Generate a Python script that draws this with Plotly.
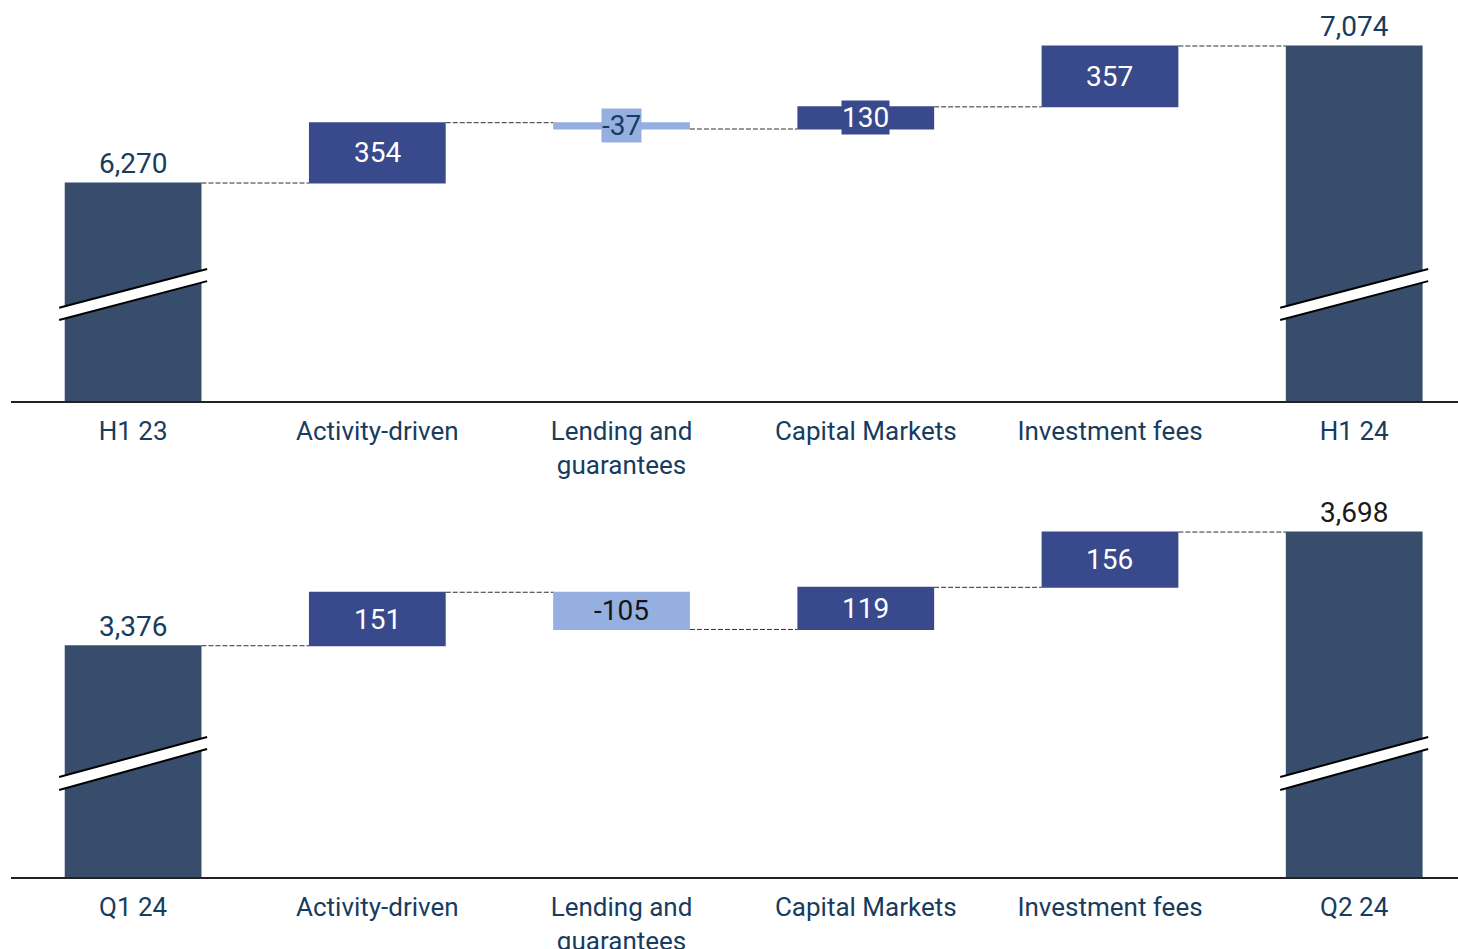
import plotly.graph_objects as go
from plotly.subplots import make_subplots

# ---------------- data ----------------
top_categories = ["H1 23", "Activity-driven", "Lending and<br>guarantees",
                  "Capital Markets", "Investment fees", "H1 24"]
top_values = [6270, 354, -37, 130, 357, 7074]

bottom_categories = ["Q1 24", "Activity-driven", "Lending and<br>guarantees",
                     "Capital Markets", "Investment fees", "Q2 24"]
bottom_values = [3376, 151, -105, 119, 156, 3698]

measures = ["absolute", "relative", "relative", "relative", "relative", "total"]

# ---------------- style ----------------
FONT = "Roboto"
C_TOTAL = "#374D6B"
C_INC = "#384A8B"
C_DEC = "#95B0E0"
C_TEXT = "#183C5D"
C_CONN = "#2E2E2E"

W, H = 1458, 949
fig = make_subplots(rows=2, cols=1, vertical_spacing=0.05)

panels = [
    dict(cats=top_categories, vals=top_values, row=1, yr=[4991, 7344],
         dom=[1 - 401 / H, 1.0], dec_text=C_TEXT, total_colors=[C_TEXT, C_TEXT],
         brk=[(0.2327, 0.329), (0.2019, 0.299)]),
    dict(cats=bottom_categories, vals=bottom_values, row=2, yr=[2723, 3844],
         dom=[1 - 877 / H, 1 - 480 / H], dec_text="#151515", total_colors=[C_TEXT, "#1a1a1a"],
         brk=[(0.2519, 0.3526), (0.2191, 0.3224)]),
]

BAR_W = 0.56
annotations = []
shapes = []
for p in panels:
    xs = list(range(len(p["cats"])))
    fig.add_trace(go.Waterfall(
        x=xs, y=p["vals"], measure=measures, width=BAR_W,
        increasing=dict(marker=dict(color=C_INC, line=dict(width=0))),
        decreasing=dict(marker=dict(color=C_DEC, line=dict(width=0))),
        totals=dict(marker=dict(color=C_TOTAL, line=dict(width=0))),
        connector=dict(mode="between", line=dict(color=C_CONN, width=1, dash="5px,2px")),
        textinfo="none", hoverinfo="skip", showlegend=False,
    ), row=p["row"], col=1)

    xref = "x" if p["row"] == 1 else "x2"
    yref = "y" if p["row"] == 1 else "y2"
    # labels
    run = 0
    for i, (m, v) in enumerate(zip(measures, p["vals"])):
        if m in ("absolute", "total"):
            col = p["total_colors"][0] if i == 0 else p["total_colors"][1]
            annotations.append(dict(
                x=i, y=v, xref=xref, yref=yref, text=f"{v:,}", showarrow=False,
                yanchor="bottom", yshift=1, font=dict(family=FONT, size=28, color=col)))
            run = v
        else:
            mid = run + v / 2
            inc = v > 0
            annotations.append(dict(
                x=i, y=mid, xref=xref, yref=yref, text=f"{v:,}", showarrow=False,
                yanchor="middle", bgcolor=C_INC if inc else C_DEC, borderpad=0,
                font=dict(family=FONT, size=28, color="white" if inc else p["dec_text"])))
            run += v
    # axis breaks on total bars
    y0, y1 = p["yr"]
    def yv(f):
        return y0 + f * (y1 - y0)
    (ul, ur), (ll, lr) = p["brk"]
    for i in (0, len(xs) - 1):
        xa, xb = i - 0.303, i + 0.303
        shapes.append(dict(type="path", xref=xref, yref=yref,
                           path=f"M {xa},{yv(ul)} L {xb},{yv(ur)} L {xb},{yv(lr)} L {xa},{yv(ll)} Z",
                           fillcolor="white", line=dict(width=0), layer="above"))
        shapes.append(dict(type="line", xref=xref, yref=yref, x0=xa, y0=yv(ul), x1=xb, y1=yv(ur),
                           line=dict(color="black", width=2), layer="above"))
        shapes.append(dict(type="line", xref=xref, yref=yref, x0=xa, y0=yv(ll), x1=xb, y1=yv(lr),
                           line=dict(color="black", width=2), layer="above"))

    fig.update_xaxes(
        tickmode="array", tickvals=xs, ticktext=p["cats"], range=[-0.5, 5.425],
        showline=True, linecolor="#222222", linewidth=2, showgrid=False, zeroline=False,
        automargin=False, fixedrange=True,
        ticks="", ticklabelstandoff=6, tickfont=dict(family=FONT, size=26, color=C_TEXT),
        row=p["row"], col=1)
    fig.update_yaxes(range=p["yr"], domain=p["dom"], visible=False, showgrid=False,
                     automargin=False, fixedrange=True,
                     zeroline=False, row=p["row"], col=1)

fig.update_layout(
    width=W, height=H, margin=dict(l=11, r=0, t=0, b=0, autoexpand=False),
    paper_bgcolor="white", plot_bgcolor="white",
    annotations=annotations, shapes=shapes,
    font=dict(family=FONT, color=C_TEXT),
)

fig.write_html("out.html", config={"displayModeBar": False},
               post_script="document.body.style.margin='0px';document.body.style.overflow='hidden';")
